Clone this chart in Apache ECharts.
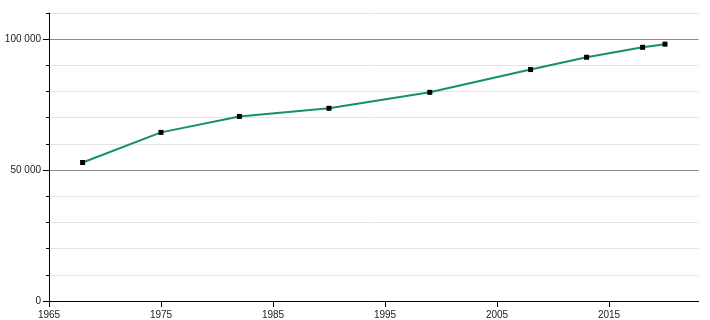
<!DOCTYPE html>
<html>
<head>
<meta charset="utf-8">
<script src="https://cdn.jsdelivr.net/npm/echarts@6/dist/echarts.min.js"></script>
<style>html,body{margin:0;padding:0;background:#fff}#c{width:710px;height:320px}</style>
</head>
<body>
<div id="c"></div>
<script>
const years = [1968, 1975, 1982, 1990, 1999, 2008, 2013, 2018, 2020];
const values = [52900, 64400, 70500, 73600, 79700, 88400, 93100, 96900, 98100];
const xTicks = [1965, 1975, 1985, 1995, 2005, 2015];
const yLabels = [0, 50000, 100000];

const font = {fontFamily: 'Liberation Sans, Arial, sans-serif', fontSize: 10, color: '#222'};
const fmt = v => String(v).replace(/\B(?=(\d{3})+(?!\d))/g, ' ');
const chart = echarts.init(document.getElementById('c'));
const top0 = 13, h0 = 288;
const top1 = top0 + h0 * (10000 / 110000);
chart.setOption({
  animation: false,
  grid: [
    {left: 49, top: top0, width: 649.6, height: h0},
    {left: 49, top: top1, width: 649.6, height: top0 + h0 - top1}
  ],
  xAxis: [{
    type: 'value', min: 1965, max: 2023, interval: 10, gridIndex: 0,
    axisLine: {lineStyle: {color: '#000', width: 1}},
    axisTick: {show: true, length: 6, lineStyle: {color: '#000'}, customValues: xTicks},
    axisLabel: Object.assign({margin: 9, customValues: xTicks, formatter: v => String(v)}, font),
    splitLine: {show: false}
  }, {
    type: 'value', min: 1965, max: 2023, gridIndex: 1, show: false
  }],
  yAxis: [{
    type: 'value', min: 0, max: 110000, interval: 10000, gridIndex: 0,
    axisLine: {show: true, lineStyle: {color: '#000', width: 1}},
    axisTick: {show: true, length: 3, lineStyle: {color: '#000'}},
    axisLabel: Object.assign({margin: 8, formatter: v => yLabels.indexOf(v) >= 0 ? fmt(v) : ''}, font),
    splitLine: {show: true, lineStyle: {color: ['#8a8a8a', '#e4e4e4', '#e4e4e4', '#e4e4e4', '#e4e4e4'], width: 1}}
  }, {
    type: 'value', min: 0, max: 100000, interval: 50000, gridIndex: 1,
    axisLine: {show: false},
    axisTick: {show: true, length: 6, lineStyle: {color: '#000'}},
    axisLabel: {show: false},
    splitLine: {show: false}
  }],
  series: [{
    type: 'line', xAxisIndex: 0, yAxisIndex: 0,
    data: years.map((y, i) => [y, values[i]]),
    symbol: 'rect', symbolSize: 5, showSymbol: true,
    lineStyle: {color: '#14906c', width: 2},
    itemStyle: {color: '#000'},
    z: 3
  }]
});
</script>
</body>
</html>
